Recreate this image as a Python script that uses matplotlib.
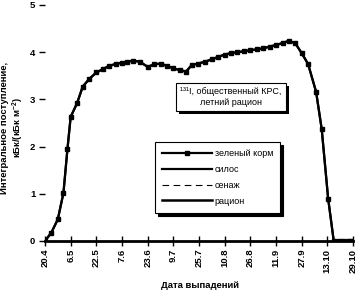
import matplotlib
matplotlib.use('Agg')
import matplotlib.pyplot as plt
import matplotlib.patheffects as pe

plt.rcParams['font.family'] = ['Liberation Sans', 'DejaVu Sans']
plt.rcParams['mathtext.fontset'] = 'custom'
plt.rcParams['mathtext.rm'] = 'Liberation Sans'
plt.rcParams['mathtext.bf'] = 'Liberation Sans:bold'

# days since 20 April
days = [0, 4, 8, 11.5, 14, 16, 20, 23.5, 27.5, 32, 36, 40, 44, 48, 51, 55, 59,
        64, 68, 72, 76, 80, 84, 88, 91.5, 95.5, 100, 104, 108, 112, 116, 120,
        124, 128, 132, 136, 140, 144, 148.5, 152, 156, 160, 164, 169, 172.5,
        176.5, 180, 183.5, 186, 189, 191]
green_feed = [0, 0.18, 0.46, 1.02, 1.95, 2.63, 2.92, 3.27, 3.43, 3.57, 3.64,
              3.71, 3.75, 3.78, 3.80, 3.82, 3.80, 3.69, 3.74, 3.76, 3.71, 3.66,
              3.62, 3.59, 3.73, 3.76, 3.80, 3.85, 3.90, 3.95, 3.98, 4.00, 4.02,
              4.04, 4.06, 4.08, 4.12, 4.15, 4.20, 4.24, 4.19, 3.98, 3.75, 3.16,
              2.37, 0.90, 0, 0, 0, 0, 0]
ration = green_feed          # summer ration = green feed only
silage = []
haylage = []

tick_days = [0, 16, 32, 48, 64, 80, 96, 112, 128, 144, 160, 176, 192]
tick_labels = ['20.4', '6.5', '22.5', '7.6', '23.6', '9.7', '25.7', '10.8',
               '26.8', '11.9', '27.9', '13.10', '29.10']

fig = plt.figure(figsize=(3.58, 2.93), dpi=100)
ax = fig.add_axes([45 / 358, 1 - 241 / 293, 308 / 358, 236 / 293])

ax.plot(days, ration, color='black', lw=1.6, zorder=2)
l1, = ax.plot(days, green_feed, color='black', lw=1.6, marker='s', ms=2.4,
              label='зеленый корм', zorder=3)
l2, = ax.plot(silage, silage, color='black', lw=1.6, label='силос')
l3, = ax.plot(haylage, haylage, color='black', lw=0.8, ls=(0, (6, 4)), label='сенаж')
l4, = ax.plot([], [], color='black', lw=1.8, label='рацион')

ax.set_xlim(0, 192)
ax.set_ylim(0, 5)
ax.set_xticks(tick_days)
ax.set_xticklabels(tick_labels, rotation=90, fontsize=6.8, fontweight='bold')
ax.set_yticks([0, 1, 2, 3, 4, 5])
ax.set_yticklabels(['0', '1', '2', '3', '4', '5'], fontsize=6.8, fontweight='bold')
ax.tick_params(axis='x', direction='inout', length=7, width=1, pad=2)
ax.tick_params(axis='y', direction='out', length=4, width=1, pad=3)

for s in ['top', 'right', 'left']:
    ax.spines[s].set_visible(False)
ax.spines['bottom'].set_linewidth(2)
ax.spines['bottom'].set_zorder(1)

fig.text(200 / 358, 1 - 285 / 293, 'Дата выпадений', ha='center', va='center',
         fontsize=6.8, fontweight='bold')
fig.text(13 / 358, 1 - 128 / 293,
         'Интегральное поступление,\nкБк/(кБк м$^{\\mathbf{-2}}$)',
         rotation=90, ha='center', va='center', fontsize=6.8, fontweight='bold',
         linespacing=1.1)

t = fig.text(231 / 358, 1 - 97 / 293, '¹³¹I, общественный КРС,\nлетний рацион',
             ha='center', va='center', fontsize=6.5, linespacing=1.3,
             bbox=dict(boxstyle='square,pad=0.45', fc='white', ec='black', lw=0.8))
t.get_bbox_patch().set_path_effects([
    pe.SimplePatchShadow(offset=(2, -2), shadow_rgbFace='black', alpha=1),
    pe.Normal()])

leg = fig.legend(handles=[l1, l2, l3, l4], loc='upper left',
                 bbox_to_anchor=(155 / 358, 1 - 142 / 293),
                 bbox_transform=fig.transFigure, fontsize=6.5, frameon=True,
                 fancybox=False, edgecolor='black', handlelength=5.5,
                 handletextpad=0.3, labelspacing=0.75, borderpad=0.8,
                 borderaxespad=0,
                 shadow={'color': 'black', 'alpha': 1, 'ox': 2, 'oy': -2})
leg.get_frame().set_linewidth(0.8)

fig.savefig('out.png', dpi=100)
